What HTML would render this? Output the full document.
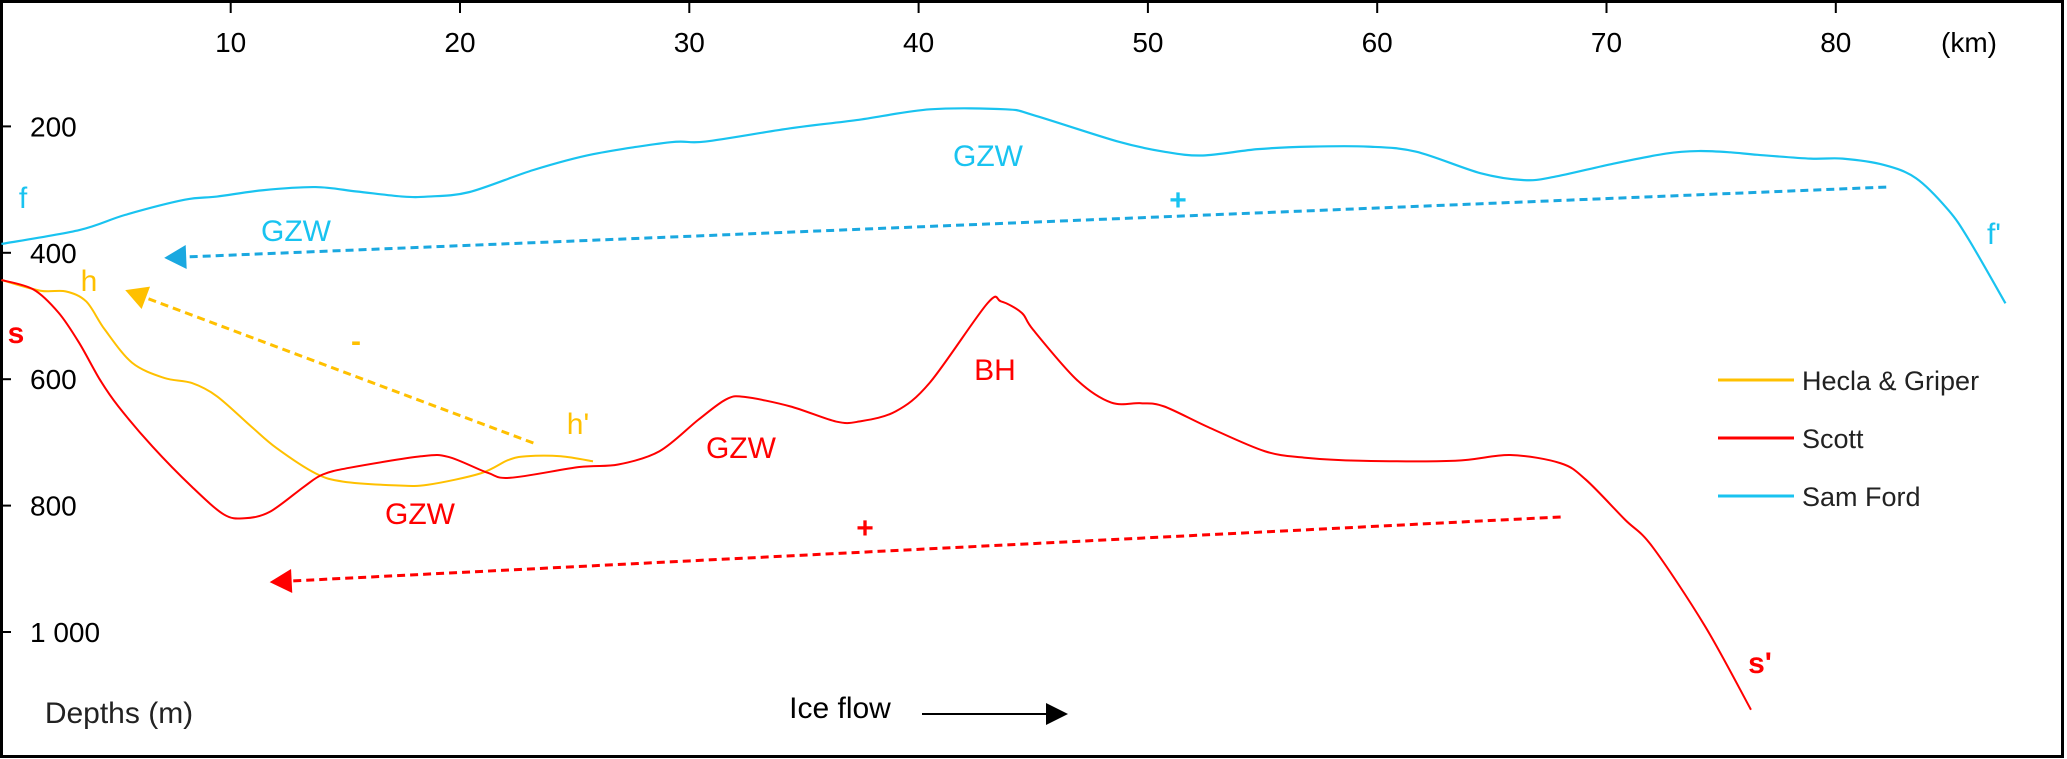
<!DOCTYPE html>
<html><head><meta charset="utf-8"><style>
html,body{margin:0;padding:0;background:#fff;}
svg{display:block;font-family:"Liberation Sans",Arial,sans-serif;}
</style></head><body>
<svg id="chart" width="2067" height="759" viewBox="0 0 2067 759" xmlns="http://www.w3.org/2000/svg">
<rect x="1.5" y="1.5" width="2061" height="755" fill="#fff" stroke="#000" stroke-width="3"/>
<g id="axes"></g>
<g id="series"></g>
<g id="annot" font-size="30"></g>
</svg>
<script>
const xTicks=[10,20,30,40,50,60,70,80];
const yTicks=[200,400,600,800,1000];
const yTickLabels=["200","400","600","800","1 000"];
const samFordKm=[0,3.4,5.4,8,9.4,11.4,13.7,15.5,17.5,18.6,20.4,23.2,25.8,29.2,30.7,34.4,37.3,40.5,43.8,45,48.7,50.7,52.4,54.8,57.1,59.6,61.7,64.5,66.4,67.7,70.3,72.6,74,75.4,76.6,78.9,80.3,82.1,83.5,84.9,85.8,87.4];
const samFordDepth=[386,364,340,316,311,301,296,303,311,311,304,269,244,225,224,203,190,173,173,182,224,240,246,236,232,232,240,274,285,280,259,243,239,241,245,251,251,261,282,332,379,480];
const scottKm=[0,1.4,2.5,3.4,4.3,5.1,6.6,8.3,9.7,10.6,11.7,13.2,14,15.2,18.3,19.5,21.2,22.2,25.2,26.9,28.7,30.4,31.6,32.4,34.4,36.4,37.4,39,40.5,43,43.6,44.5,45,46.9,48.4,49.7,50.7,52.7,55.1,56.8,59.3,63.4,65.8,68,69.1,70.8,72,74.3,76.3];
const scottDepth=[443,458,495,543,601,643,707,770,814,820,810,770,751,740,722,723,748,756,739,735,714,664,632,628,643,667,667,651,605,480,477,495,522,601,637,638,643,677,714,724,729,729,720,733,759,822,865,991,1123];
const heclaKm=[0,1.7,2.8,3.7,4.5,5.7,7.1,8.3,9.4,10.9,12,13.7,14.9,17.2,18.6,20.9,22.1,22.9,24.4,25.8];
const heclaDepth=[443,460,461,477,521,574,598,606,627,675,709,749,762,768,767,749,728,722,722,730];
// trend arrows: [startKm,startDepth,endKm,endDepth]
const samFordTrend=[82.2,296,7.1,408];
const heclaTrend=[23.2,701,5.4,459];
const scottTrend=[68,818,11.7,921];

const X=km=>1.4+22.93*km;
const Y=d=>0.632*d;
const NS="http://www.w3.org/2000/svg";
function mk(tag,attrs,parent){const e=document.createElementNS(NS,tag);for(const k in attrs)e.setAttribute(k,attrs[k]);parent.appendChild(e);return e;}
const axes=document.getElementById('axes'),series=document.getElementById('series'),annot=document.getElementById('annot');

xTicks.forEach((t,i)=>{
  const l=mk('line',{x1:X(t),x2:X(t),y1:0,y2:13,stroke:'#000','stroke-width':2},axes);
  
  
  const tx=mk('text',{x:X(t),y:52,'text-anchor':'middle','font-size':28,fill:'#000'},axes);
  tx.textContent=String(t);
  
  
});
const km=mk('text',{x:1969,y:52,'text-anchor':'middle','font-size':28,fill:'#000'},axes);
km.textContent='(km)';


yTicks.forEach((t,i)=>{
  const l=mk('line',{x1:0,x2:11,y1:Y(t),y2:Y(t),stroke:'#000','stroke-width':2},axes);
  
  
  const tx=mk('text',{x:30,y:Y(t)+10,'font-size':28,fill:'#000'},axes);
  tx.textContent=yTickLabels[i];
  
  
});

function smoothPath(pts){
  let d='M'+pts[0][0]+','+pts[0][1];
  for(let i=0;i<pts.length-1;i++){
    const p0=pts[i-1]||pts[i],p1=pts[i],p2=pts[i+1],p3=pts[i+2]||p2;
    const t=0.16;
    const c1x=p1[0]+(p2[0]-p0[0])*t,c1y=p1[1]+(p2[1]-p0[1])*t;
    const c2x=p2[0]-(p3[0]-p1[0])*t,c2y=p2[1]-(p3[1]-p1[1])*t;
    d+=` C${c1x},${c1y} ${c2x},${c2y} ${p2[0]},${p2[1]}`;
  }
  return d;
}
function line(kms,ds,color,w,name){
  const pts=kms.map((k,i)=>[X(k),Y(ds[i])]);
  const p=mk('path',{d:smoothPath(pts),fill:'none',stroke:color,'stroke-width':w,'stroke-linejoin':'round'},series);
  
  
}
line(samFordKm,samFordDepth,'#19c3f0',2.2,'sam-ford-profile');
line(heclaKm,heclaDepth,'#ffc000',2,'hecla-griper-profile');
line(scottKm,scottDepth,'#ff0000',2,'scott-profile');

function trend(a,color,name){
  const x1=X(a[0]),y1=Y(a[1]),x2=X(a[2]),y2=Y(a[3]);
  const ang=Math.atan2(y2-y1,x2-x1);
  const L=22,W=12;
  const bx=x2-L*Math.cos(ang),by=y2-L*Math.sin(ang);
  const l=mk('line',{x1:x1,y1:y1,x2:bx,y2:by,stroke:color,'stroke-width':3,'stroke-dasharray':'8 5'},series);
  
  
  const px=-Math.sin(ang),py=Math.cos(ang);
  const h=mk('polygon',{points:`${x2},${y2} ${bx+W*px},${by+W*py} ${bx-W*px},${by-W*py}`,fill:color},series);
  
  
}
trend(samFordTrend,'#1aa8e0','sam-ford-trend-arrow');
trend(heclaTrend,'#ffc000','hecla-trend-arrow');
trend(scottTrend,'#ff0000','scott-trend-arrow');

const labels=[
 ['f',23,208,'#19c3f0','normal','label-f'],
 ['GZW',296,241,'#19c3f0','normal','label-gzw-sam-ford-1'],
 ['GZW',988,166,'#19c3f0','normal','label-gzw-sam-ford-2'],
 ['+',1178,210,'#19c3f0','bold','label-plus-sam-ford'],
 ["f'",1994,244,'#19c3f0','normal','label-f-prime'],
 ['h',89,291,'#ffc000','normal','label-h'],
 ['-',356,351,'#ffc000','bold','label-minus-hecla'],
 ["h'",578,434,'#ffc000','normal','label-h-prime'],
 ['s',16,343,'#ff0000','bold','label-s'],
 ['GZW',420,524,'#ff0000','normal','label-gzw-scott-1'],
 ['GZW',741,458,'#ff0000','normal','label-gzw-scott-2'],
 ['BH',995,380,'#ff0000','normal','label-bh'],
 ['+',865,538,'#ff0000','bold','label-plus-scott'],
 ["s'",1760,673,'#ff0000','bold','label-s-prime'],
 ['Depths (m)',119,723,'#222','normal','y-axis-title'],
 ['Ice flow',840,718,'#000','normal','ice-flow-label']
];
labels.forEach(a=>{
  const t=mk('text',{x:a[1],y:a[2],'text-anchor':'middle',fill:a[3],'font-weight':a[4]},annot);
  t.textContent=a[0];
  
  
});
const fl=mk('line',{x1:922,y1:714,x2:1048,y2:714,stroke:'#000','stroke-width':2},annot);


const fh=mk('polygon',{points:'1068,714 1046,703 1046,725',fill:'#000'},annot);



const legend=[['Hecla & Griper','#ffc000',380],['Scott','#ff0000',438],['Sam Ford','#19c3f0',496]];
legend.forEach(a=>{
  const g=mk('g',{},annot);
  
  
  mk('line',{x1:1718,x2:1794,y1:a[2],y2:a[2],stroke:a[1],'stroke-width':3},g);
  const t=mk('text',{x:1802,y:a[2]+10,fill:'#222','font-size':27},g);
  t.textContent=a[0];
});
</script>
</body></html>
